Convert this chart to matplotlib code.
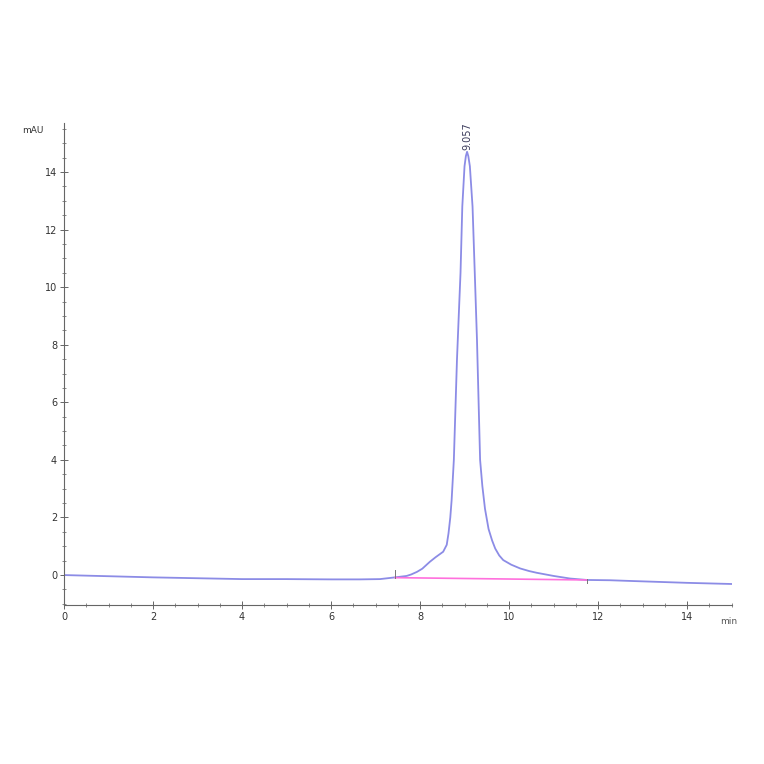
import matplotlib
matplotlib.use("Agg")
import matplotlib.pyplot as plt
from matplotlib.ticker import MultipleLocator

# Chromatogram trace (time in min, absorbance in mAU)
time_min = [0.0, 1.0, 2.0, 3.0, 4.0, 5.0, 6.0, 6.65, 7.1, 7.44, 7.7, 7.8,
            7.93, 8.05, 8.22, 8.35, 8.52, 8.6, 8.64, 8.68, 8.71, 8.76, 8.83,
            8.87, 8.91, 8.95, 9.0, 9.03, 9.057, 9.085, 9.12, 9.18, 9.23,
            9.28, 9.35, 9.40, 9.46, 9.54, 9.62, 9.69, 9.78, 9.87, 10.05,
            10.25, 10.45, 10.62, 11.0, 11.37, 11.75, 12.27, 12.64, 14.0, 15.0]
signal_mau = [0.0, -0.04, -0.08, -0.11, -0.14, -0.14, -0.15, -0.15, -0.14,
              -0.08, -0.03, 0.02, 0.11, 0.22, 0.46, 0.62, 0.81, 1.05, 1.45,
              2.0, 2.6, 4.0, 7.47, 9.0, 10.5, 12.8, 14.2, 14.55, 14.7, 14.55,
              14.2, 12.8, 10.5, 8.16, 4.0, 3.1, 2.3, 1.6, 1.2, 0.92, 0.68,
              0.52, 0.36, 0.23, 0.14, 0.08, -0.03, -0.12, -0.17, -0.18, -0.2,
              -0.27, -0.31]

# Integration baseline
base_time = [7.44, 11.75]
base_mau = [-0.09, -0.17]

peak_time = 9.057
peak_height = 14.7
peak_label = "9.057"

fig = plt.figure(figsize=(7.64, 7.64), dpi=100)
ax = fig.add_axes([0.0838, 0.2081, 0.8737, 0.6309])

ax.plot(time_min, signal_mau, color="#8c8ce6", lw=1.3, solid_joinstyle="round")
ax.plot(base_time, base_mau, color="#ff70dd", lw=1.2)
# integration start/end marks
ax.plot([base_time[0], base_time[0]], [base_mau[0], base_mau[0] + 0.25], color="#777777", lw=0.7)
ax.plot([base_time[1], base_time[1]], [base_mau[1] - 0.12, base_mau[1] + 0.05], color="#777777", lw=0.7)

ax.text(peak_time, peak_height + 0.05, peak_label, rotation=90, ha="center", va="bottom",
        fontsize=7, color="#3a3a5a")

ax.set_xlim(0, 15)
ax.set_ylim(-1.04, 15.7)
ax.xaxis.set_major_locator(MultipleLocator(2))
ax.xaxis.set_minor_locator(MultipleLocator(0.5))
ax.yaxis.set_major_locator(MultipleLocator(2))
ax.yaxis.set_minor_locator(MultipleLocator(0.5))

for s in ["top", "right"]:
    ax.spines[s].set_visible(False)
for s in ["left", "bottom"]:
    ax.spines[s].set_color("#666666")
    ax.spines[s].set_linewidth(0.8)

ax.tick_params(which="major", direction="inout", length=6, width=0.7, colors="#666666",
               labelsize=7, labelcolor="#333333", pad=2)
ax.tick_params(which="minor", direction="inout", length=3.5, width=0.6, colors="#777777")

ax.text(-0.03, 0.985, "mAU", transform=ax.transAxes, ha="right", va="center",
        fontsize=6.5, color="#333333")
ax.text(0.995, -0.035, "min", transform=ax.transAxes, ha="center", va="center",
        fontsize=6.5, color="#555555")

fig.savefig("out.png", dpi=100, facecolor="white")
